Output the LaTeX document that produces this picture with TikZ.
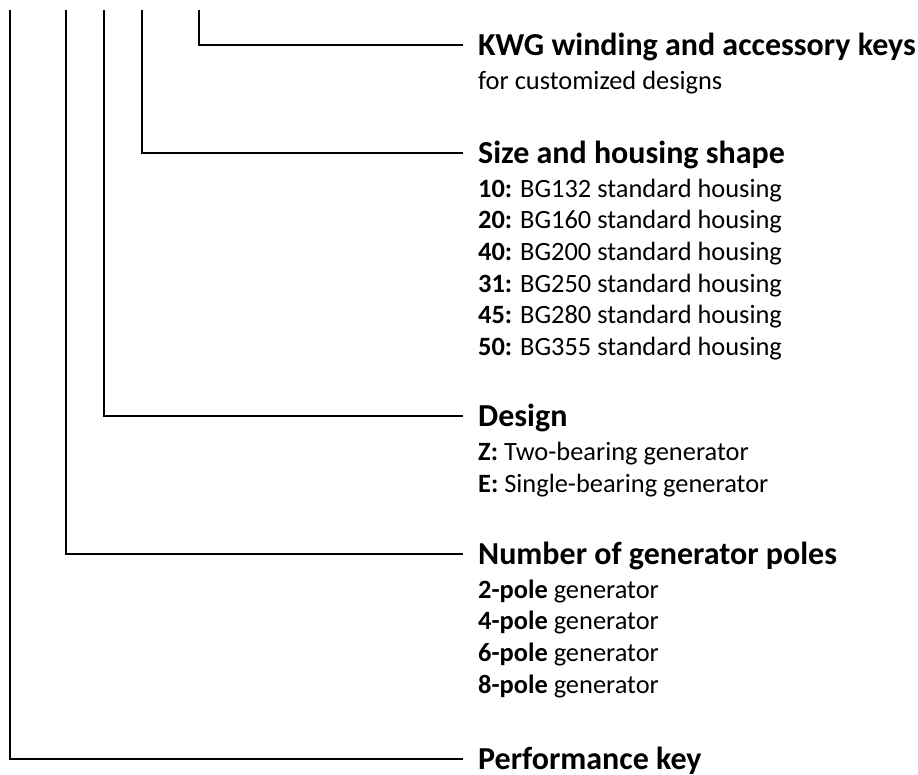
\documentclass[tikz,border=0pt]{standalone}
\usepackage{fontspec}
\setmainfont{Carlito}
\usetikzlibrary{positioning}

\tikzset{
  lead/.style={line width=2pt},
  head/.style={font=\fontsize{32}{38}\selectfont\bfseries, anchor=base west,
    inner sep=0pt, text height=20pt, text depth=0pt},
  item/.style={font=\fontsize{26.4}{31.7}\selectfont, anchor=base west, inner sep=0pt},
}

\begin{document}
\begin{tikzpicture}[x=1pt,y=-1pt]
  \useasboundingbox (0,0) rectangle (918,774);
  % upper ends of the leads
  \coordinate (top1) at (199,10);
  \coordinate (top2) at (142,10);
  \coordinate (top3) at (104,10);
  \coordinate (top4) at (66,10);
  \coordinate (top5) at (10,10);
  % headings
  \node[head] (kwg)    at (478,55)  {KWG winding and accessory keys};
  \node[head] (size)   at (478,163) {Size and housing shape};
  \node[head] (design) at (478,426) {Design};
  \node[head] (poles)  at (478,564) {Number of generator poles};
  \node[head] (perf)   at (478,769) {Performance key};
  % entries
  \node[item] (kwg1) at (478,89) {for customized designs};
  \foreach \k/\n [count=\i] in {10/132,20/160,40/200,31/250,45/280,50/355}
    \node[item] (size\i) at (478,{197+(\i-1)*31.7}) {\textbf{\k:} BG\n{} standard housing};
  \node[item] (design1) at (478,460) {\textbf{Z:} Two-bearing generator};
  \node[item] (design2) at (478,492) {\textbf{E:} Single-bearing generator};
  \foreach \p [count=\i] in {2,4,6,8}
    \node[item] (poles\i) at (478,{598+(\i-1)*31.7}) {\textbf{\p-pole} generator};
  % leads
  \draw[lead] (top1) |- ([xshift=-15pt]kwg.west);
  \draw[lead] (top2) |- ([xshift=-15pt]size.west);
  \draw[lead] (top3) |- ([xshift=-15pt]design.west);
  \draw[lead] (top4) |- ([xshift=-15pt]poles.west);
  \draw[lead] (top5) |- ([xshift=-15pt]perf.west);
\end{tikzpicture}
\end{document}
